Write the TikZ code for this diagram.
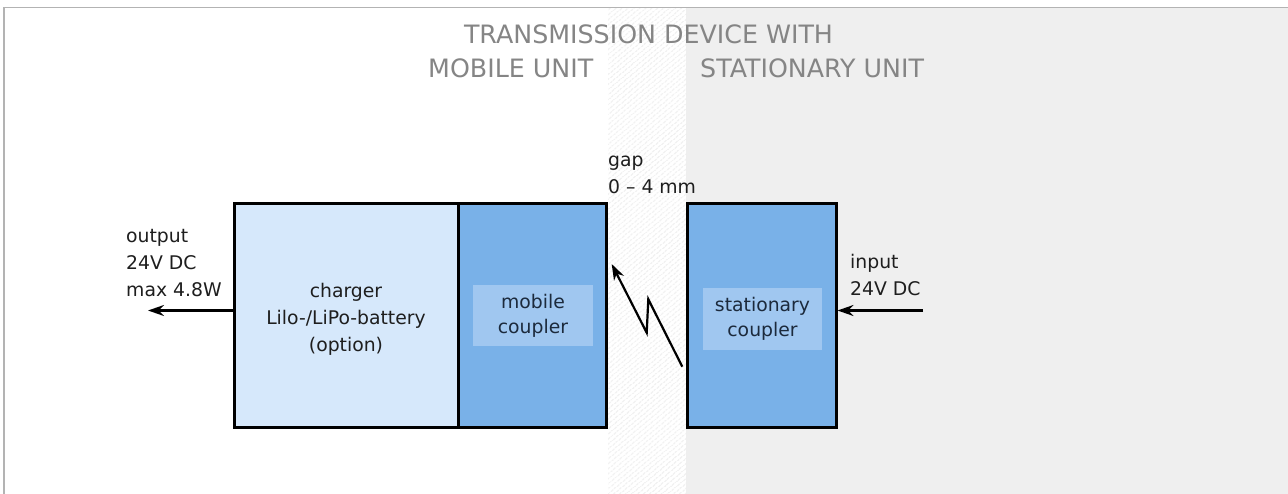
\documentclass[tikz,border=0pt]{standalone}
\usepackage{fontspec}
\setmainfont{DejaVu Sans}
\usetikzlibrary{arrows.meta,patterns.meta}
\definecolor{framegray}{HTML}{B3B3B3}
\definecolor{statbg}{HTML}{EFEFEF}
\definecolor{hatchgray}{HTML}{DCDCDC}
\definecolor{chargerfill}{HTML}{D6E8FB}
\definecolor{couplerfill}{HTML}{79B1E8}
\definecolor{innerfill}{HTML}{A0C7F0}
\definecolor{titlegray}{HTML}{858585}
\definecolor{navy}{HTML}{1C2A3C}
\definecolor{bodytext}{HTML}{1E1E1E}
\begin{document}
\begin{tikzpicture}[x=1pt,y=-1pt,
  outerbox/.style={draw=black,line width=3pt,inner sep=0pt,minimum width=#1,minimum height=223pt},
  innerbox/.style={fill=innerfill,inner sep=0pt,align=center,text=navy,
    font=\fontsize{18.8pt}{25pt}\selectfont},
  label/.style={inner sep=0pt,align=left,text=bodytext,anchor=west,
    font=\fontsize{18.8pt}{27pt}\selectfont},
  title/.style={inner sep=0pt,text=titlegray,font=\fontsize{25.3pt}{30pt}\selectfont},
  arr/.style={line width=2.2pt,-{Stealth[length=16pt,width=11pt]}},
  framel/.style={draw=framegray,line width=1.8pt}]
\useasboundingbox (0,0) rectangle (1288,494);
% backgrounds
\fill[white] (0,0) rectangle (1288,494);
\fill[statbg] (686,8) rectangle (1288,494);
\fill[pattern={Lines[angle=40,distance=4pt,line width=0.7pt]},pattern color=hatchgray] (608,8) rectangle (686,494);
% frame
\draw[framel] (4,494) -- (4,7.5) -- (1288,7.5);
% title
\node[title,anchor=base] (t1) at (648.5,44) {TRANSMISSION DEVICE WITH};
\node[title,anchor=base west] (t2) at (428,78) {MOBILE UNIT};
\node[title,anchor=base west] (t3) at (700,78) {STATIONARY UNIT};
% boxes
\node[outerbox=224pt,fill=chargerfill] (charger) at (346,315.5) {};
\node[align=center,text=bodytext,inner sep=0pt,
  font=\fontsize{18.8pt}{27pt}\selectfont] (chargertext) at (346,319) {charger\\Lilo-/LiPo-battery\\(option)};
\node[outerbox=148pt,fill=couplerfill] (mobile) at (532,315.5) {};
\node[innerbox,minimum width=120pt,minimum height=61pt] (mobin) at (533,315.5) {mobile\\coupler};
\node[outerbox=149pt,fill=couplerfill] (stat) at (761.5,315.5) {};
\node[innerbox,minimum width=119pt,minimum height=62pt] (statin) at (762.5,319) {stationary\\coupler};
% labels
\node[label] (outlbl) at (126,263) {output\\24V DC\\max 4.8W};
\node[label] (inlbl) at (850,275) {input\\24V DC};
\node[label] (gaplbl) at (608,175) {gap\\0 – 4 mm};
% arrows
\coordinate (outend) at (148,310.5);
\coordinate (instart) at (923,310.5);
\draw[arr] (charger.west |- outend) -- (outend);
\draw[arr] (instart) -- (stat.east |- instart);
% wireless link
\coordinate (z0) at (682.3,366.7);
\coordinate (z1) at (648.3,299.3);
\coordinate (z2) at (646.7,332.7);
\coordinate (z3) at (611.7,264);
\draw[arr,line join=miter] (z0) -- (z1) -- (z2) -- (z3);
\end{tikzpicture}
\end{document}
